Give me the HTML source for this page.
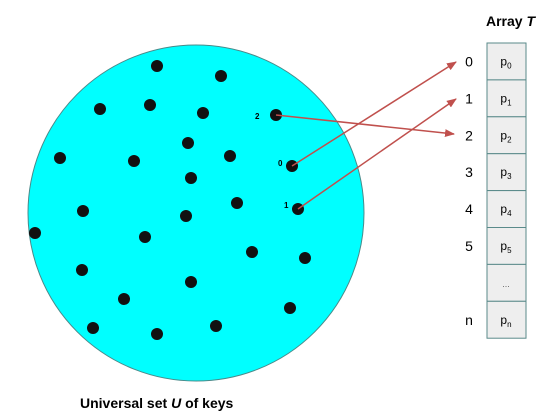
<!DOCTYPE html>
<html><head><meta charset="utf-8"><style>
body{margin:0;background:#fff;}
svg{display:block;font-family:"Liberation Sans",Arial,sans-serif;}
</style></head><body>
<svg width="546" height="416" viewBox="0 0 546 416">
<defs><marker id="ah" markerWidth="10" markerHeight="8" refX="9" refY="4" orient="auto" markerUnits="userSpaceOnUse"><path d="M0,0 L10,4 L0,8 Z" fill="#c0504d"/></marker></defs>
<circle cx="196" cy="213" r="168" fill="#00ffff" stroke="#4a8a8a" stroke-width="1"/>
<g id="dots"></g>
<text x="255" y="119" font-size="8" font-weight="bold">2</text>
<text x="278" y="166" font-size="8" font-weight="bold">0</text>
<text x="284" y="208" font-size="8" font-weight="bold">1</text>
<g stroke="#c0504d" stroke-width="1.5" fill="none">
<line x1="276" y1="115" x2="454" y2="134" marker-end="url(#ah)"/>
<line x1="292" y1="166" x2="456" y2="62" marker-end="url(#ah)"/>
<line x1="298" y1="209" x2="456" y2="99" marker-end="url(#ah)"/>
</g>
<text x="486" y="26" font-size="14" font-weight="bold">Array <tspan font-style="italic">T</tspan></text>
<g id="arr"></g>
<text x="80" y="408" font-size="14" font-weight="bold">Universal set <tspan font-style="italic">U</tspan> of keys</text>
</svg>
<script>
const dotX=[157,221,100,150,203,276,188,60,134,230,191,292,83,186,237,298,35,145,82,252,305,191,124,290,93,157,216];
const dotY=[66,76,109,105,113,115,143,158,161,156,178,166,211,216,203,209,233,237,270,252,258,282,299,308,328,334,326];
const rowIdx=["0","1","2","3","4","5","","n"];
const rowSub=["0","1","2","3","4","5","","n"];
const NS="http://www.w3.org/2000/svg";
const g=document.getElementById('dots');
dotX.forEach((x,i)=>{const c=document.createElementNS(NS,'circle');
c.setAttribute('cx',x);c.setAttribute('cy',dotY[i]);c.setAttribute('r',6);c.setAttribute('fill','#111');


g.appendChild(c);});
const a=document.getElementById('arr');
const top0=43,h=36.9;
rowIdx.forEach((lab,i)=>{const y=top0+i*h;
const r=document.createElementNS(NS,'rect');
r.setAttribute('x',487);r.setAttribute('y',y);r.setAttribute('width',39);r.setAttribute('height',h);
r.setAttribute('fill','#eeeeee');r.setAttribute('stroke','#5a8a8a');r.setAttribute('stroke-width',1);


a.appendChild(r);
const t=document.createElementNS(NS,'text');
t.setAttribute('x',506);t.setAttribute('y',y+h/2+4);t.setAttribute('font-size',12);t.setAttribute('text-anchor','middle');


if(rowSub[i]===""){t.textContent="...";t.setAttribute('fill','#666');t.setAttribute('font-size',9);}
else{t.textContent="p";const s=document.createElementNS(NS,'tspan');s.setAttribute('font-size',8);s.setAttribute('dy',3);s.textContent=rowSub[i];t.appendChild(s);}
a.appendChild(t);
if(lab!==""){const l=document.createElementNS(NS,'text');
l.setAttribute('x',469);l.setAttribute('y',y+h/2+5);l.setAttribute('font-size',14);l.setAttribute('text-anchor','middle');


l.textContent=lab;a.appendChild(l);}
});
</script>
</body></html>
